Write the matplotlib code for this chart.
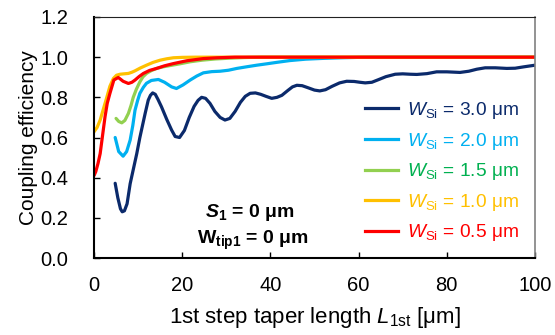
import numpy as np
import matplotlib
matplotlib.use("Agg")
import matplotlib.pyplot as plt
from matplotlib.lines import Line2D

plt.rcParams['font.family'] = ['Liberation Sans', 'DejaVu Sans']
plt.rcParams['mathtext.fontset'] = 'custom'
plt.rcParams['mathtext.rm'] = 'Liberation Sans'
plt.rcParams['mathtext.it'] = 'Liberation Sans:italic'
plt.rcParams['mathtext.bf'] = 'Liberation Sans:bold'
plt.rcParams['mathtext.bfit'] = 'Liberation Sans:italic:bold'

# W_Si = 3.0 um
L_30 = [4.8, 5.4, 6.0, 6.4, 6.9, 7.5, 8.2, 9.0, 9.7, 10.4, 11.0, 11.6, 12.3, 12.8, 13.3, 13.9, 14.5,
        15.3, 16.5, 17.6, 18.4, 19.4, 20.5, 21.6, 22.7, 23.6, 24.4, 25.3, 26.3, 27.4, 28.6, 29.7,
        30.8, 32.0, 33.2, 34.3, 35.4, 36.6, 37.8, 39.0, 40.3, 41.5, 42.6, 44.0, 45.0, 46.0, 47.2,
        48.5, 50.0, 51.2, 52.5, 54.0, 55.7, 57.3, 59.0, 60.3, 61.5, 63.0, 64.5, 66.2, 68.3, 70.0,
        71.7, 73.2, 75.5, 77.7, 80.0, 83.0, 85.0, 86.8, 88.7, 91.0, 93.6, 95.5, 97.5, 100.0]
E_30 = [0.372, 0.30, 0.245, 0.23, 0.235, 0.27, 0.37, 0.45, 0.52, 0.60, 0.66, 0.72, 0.786, 0.81, 0.822,
        0.815, 0.79, 0.753, 0.69, 0.637, 0.605, 0.60, 0.635, 0.70, 0.755, 0.785, 0.80, 0.795, 0.77,
        0.73, 0.70, 0.687, 0.695, 0.73, 0.775, 0.805, 0.82, 0.822, 0.815, 0.805, 0.795, 0.80, 0.81,
        0.835, 0.852, 0.86, 0.858, 0.848, 0.836, 0.832, 0.838, 0.855, 0.872, 0.88, 0.879, 0.875,
        0.872, 0.875, 0.888, 0.903, 0.915, 0.917, 0.915, 0.914, 0.918, 0.927, 0.927, 0.924, 0.93,
        0.94, 0.947, 0.947, 0.944, 0.945, 0.952, 0.96]

# W_Si = 2.0 um
L_20 = [4.8, 5.6, 6.6, 7.4, 8.2, 8.8, 9.3, 9.9, 10.4, 11.2, 11.9, 13.0, 14.6, 16.0, 17.6, 18.7,
        20.2, 21.8, 23.3, 24.8, 26.7, 28.6, 30.5, 32.4, 34.6, 36.9, 39.2, 41.4, 44.4, 48.0, 52.0,
        56.0, 60.0, 63.0, 70.0, 80.0, 90.0, 100.0]
E_20 = [0.60, 0.53, 0.507, 0.53, 0.587, 0.66, 0.736, 0.785, 0.82, 0.85, 0.87, 0.884, 0.889, 0.875,
        0.852, 0.844, 0.862, 0.886, 0.906, 0.922, 0.928, 0.93, 0.935, 0.944, 0.952, 0.96, 0.967,
        0.974, 0.983, 0.99, 0.994, 0.997, 0.999, 1.0, 1.0, 1.0, 1.0, 1.0]

# W_Si = 1.5 um
L_15 = [5.0, 5.6, 6.3, 7.0, 7.8, 8.4, 8.9, 9.6, 10.4, 11.1, 11.9, 13.0, 14.2, 15.7, 17.2, 19.5,
        21.8, 24.5, 27.5, 30.8, 34.0, 38.0, 45.0, 60.0, 80.0, 100.0]
E_15 = [0.695, 0.68, 0.673, 0.685, 0.72, 0.76, 0.80, 0.84, 0.877, 0.902, 0.919, 0.933, 0.944, 0.952,
        0.958, 0.967, 0.977, 0.985, 0.991, 0.995, 0.998, 1.0, 1.0, 1.0, 1.0, 1.0]

# W_Si = 1.0 um
L_10 = [0.0, 0.7, 1.4, 2.1, 2.9, 3.6, 4.4, 5.1, 5.9, 6.8, 7.8, 8.6, 9.3, 10.5, 11.9, 13.4, 15.0,
        16.5, 18.0, 20.0, 23.0, 30.0, 50.0, 75.0, 100.0]
E_10 = [0.628, 0.65, 0.687, 0.74, 0.80, 0.855, 0.894, 0.91, 0.915, 0.917, 0.919, 0.925, 0.932, 0.946,
        0.96, 0.974, 0.985, 0.992, 0.997, 0.999, 1.0, 1.0, 1.0, 1.0, 1.0]

# W_Si = 0.5 um
L_05 = [0.0, 0.4, 0.9, 1.4, 2.0, 2.5, 3.0, 3.6, 4.5, 5.5, 6.6, 7.8, 8.6, 9.3, 10.2, 11.2, 12.6,
        14.2, 16.0, 18.0, 21.0, 24.8, 28.0, 32.0, 40.0, 60.0, 80.0, 100.0]
E_05 = [0.41, 0.43, 0.47, 0.52, 0.62, 0.703, 0.77, 0.819, 0.886, 0.899, 0.88, 0.869, 0.875, 0.886,
        0.903, 0.919, 0.934, 0.944, 0.957, 0.968, 0.982, 0.993, 0.997, 1.0, 1.0, 1.0, 1.0, 1.0]

series = [(L_30, E_30, '#0B2A6B', '#0B2A6B', '3.0'),
          (L_20, E_20, '#00B0F0', '#00B0F0', '2.0'),
          (L_15, E_15, '#92D050', '#00B050', '1.5'),
          (L_10, E_10, '#FFC000', '#FFC000', '1.0'),
          (L_05, E_05, '#FF0000', '#FF0000', '0.5')]

fig = plt.figure(figsize=(5.55, 3.35), dpi=100)
ax = fig.add_axes([94 / 555, 1 - 258 / 335, 441 / 555, 241 / 335])

handles = []
labels = []
text_colors = []
for L, E, lc, tc, w in series:
    ax.plot(L, E, color=lc, lw=2.3, solid_capstyle='round', solid_joinstyle='round')
    handles.append(Line2D([], [], color=lc, lw=2.3))
    labels.append(r'$W_{\mathrm{Si}}$ = ' + w + ' μm')
    text_colors.append(tc)

ax.set_xlim(0, 100)
ax.set_ylim(0, 1.2)
ax.set_xticks(np.arange(0, 101, 20))
ax.set_yticks(np.arange(0, 1.21, 0.2))
ax.set_yticklabels(['%.1f' % v for v in np.arange(0, 1.21, 0.2)])
ax.tick_params(direction='in', length=4, width=1, labelsize=14.5, colors='black')
ax.tick_params(axis='y', pad=18.5)
ax.tick_params(axis='x', pad=13)

for s in ['left', 'bottom']:
    ax.spines[s].set_linewidth(1.5)
    ax.spines[s].set_color('black')
ax.spines['top'].set_linewidth(0.8)
ax.spines['top'].set_color('#222222')
ax.spines['right'].set_linewidth(1.2)
ax.spines['right'].set_color('#808080')

ax.set_ylabel('Coupling efficiency', fontsize=15, labelpad=2)
ax.set_xlabel(r'1st step taper length $L_{\mathrm{1st}}$ [μm]', fontsize=16, labelpad=7)

leg = ax.legend(handles, labels, loc='upper left', bbox_to_anchor=(0.615, 0.655), frameon=False,
                fontsize=13.75, handlelength=1.73, handletextpad=0.47, labelspacing=0.5,
                borderaxespad=0, borderpad=0)
for t, c in zip(leg.get_texts(), text_colors):
    t.set_color(c)

ax.text(0.252, 0.19, r'$\mathbfit{S}_{\mathbf{1}}$ = 0 μm', transform=ax.transAxes,
        fontsize=14, fontweight='bold', va='center', ha='left')
ax.text(0.234, 0.075, r'W$_{\mathbf{tip1}}$ = 0 μm', transform=ax.transAxes,
        fontsize=14, fontweight='bold', va='center', ha='left')

fig.savefig('out.png', dpi=100)
